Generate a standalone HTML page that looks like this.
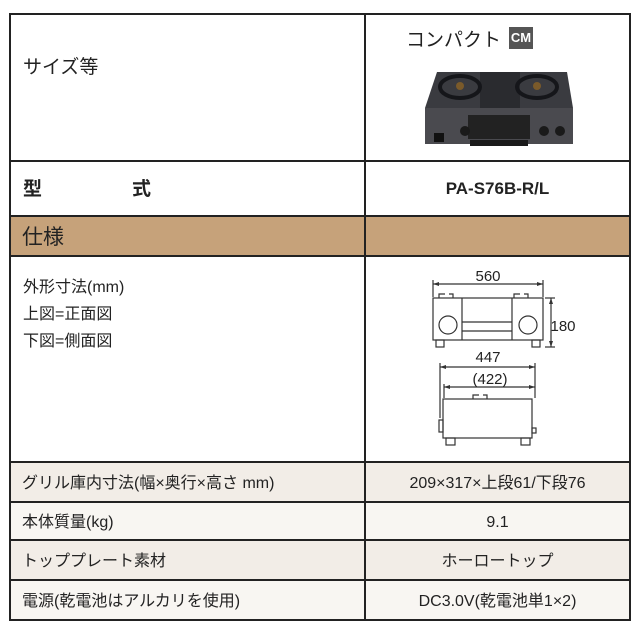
<!DOCTYPE html>
<html><head><meta charset="utf-8"><style>
body{margin:0;width:640px;height:640px;background:#fff;font-family:"Liberation Sans","Noto Sans CJK JP",sans-serif;color:#222;position:relative;overflow:hidden}
.t{position:absolute;white-space:nowrap}
.l{position:absolute;background:#222}
.r{position:absolute;white-space:nowrap;font-size:16px}
</style></head><body>
<div style="position:absolute;left:10px;top:216px;width:621px;height:40px;background:#c6a27a"></div>
<div style="position:absolute;left:10px;top:462px;width:621px;height:40px;background:#f2ede7"></div>
<div style="position:absolute;left:10px;top:502px;width:621px;height:38px;background:#f8f6f2"></div>
<div style="position:absolute;left:10px;top:540px;width:621px;height:40px;background:#f2ede7"></div>
<div style="position:absolute;left:10px;top:580px;width:621px;height:41px;background:#f8f6f2"></div>
<div class="l" style="left:9px;top:13px;width:2px;height:608px"></div>
<div class="l" style="left:629px;top:13px;width:2px;height:608px"></div>
<div class="l" style="left:364px;top:13px;width:2px;height:608px"></div>
<div class="l" style="left:9px;top:13px;width:622px;height:2px"></div>
<div class="l" style="left:9px;top:160px;width:622px;height:2px"></div>
<div class="l" style="left:9px;top:215px;width:622px;height:2px"></div>
<div class="l" style="left:9px;top:255px;width:622px;height:2px"></div>
<div class="l" style="left:9px;top:461px;width:622px;height:2px"></div>
<div class="l" style="left:9px;top:501px;width:622px;height:2px"></div>
<div class="l" style="left:9px;top:539px;width:622px;height:2px"></div>
<div class="l" style="left:9px;top:579px;width:622px;height:2px"></div>
<div class="l" style="left:9px;top:619px;width:622px;height:2px"></div>
<div class="t" style="left:23px;top:53px;font-size:19px;line-height:30px">サイズ等</div>
<div class="t" style="left:23px;top:175px;font-size:19px;font-weight:bold;line-height:30px">型</div>
<div class="t" style="left:132px;top:175px;font-size:19px;font-weight:bold;line-height:30px">式</div>
<div class="t" style="left:22px;top:219px;font-size:21px;line-height:38px">仕様</div>
<div class="t" style="left:23px;top:274px;font-size:16px;line-height:27px">外形寸法(mm)<br>上図=正面図<br>下図=側面図</div>
<div class="r" style="left:22px;top:465px;line-height:38px">グリル庫内寸法(幅×奥行×高さ mm)</div>
<div class="r" style="left:22px;top:505px;line-height:36px">本体質量(kg)</div>
<div class="r" style="left:22px;top:543px;line-height:38px">トッププレート素材</div>
<div class="r" style="left:22px;top:583px;line-height:38px">電源(乾電池はアルカリを使用)</div>
<div class="t" style="left:406px;top:25px;font-size:19px">コンパクト</div>
<div class="t" style="left:509px;top:27px;width:24px;height:22px;background:#555;color:#fff;font-size:13px;font-weight:bold;text-align:center;line-height:22px">CM</div>
<div class="t" style="left:366px;top:174px;width:263px;text-align:center;font-size:17px;font-weight:bold;line-height:30px">PA-S76B-R/L</div>
<div class="r" style="left:366px;top:465px;width:263px;text-align:center;line-height:38px">209×317×上段61/下段76</div>
<div class="r" style="left:366px;top:505px;width:263px;text-align:center;line-height:36px">9.1</div>
<div class="r" style="left:366px;top:543px;width:263px;text-align:center;line-height:38px">ホーロートップ</div>
<div class="r" style="left:366px;top:583px;width:263px;text-align:center;line-height:38px">DC3.0V(乾電池単1×2)</div>
<svg style="position:absolute;left:0;top:0" width="640" height="640">
<polygon points="437,72 567,72 573,108 425,108" fill="#3a3b40"/>
<rect x="425" y="108" width="148" height="36" fill="#4a4a4f"/>
<rect x="480" y="72" width="40" height="36" fill="#2a2b2f"/>
<ellipse cx="460" cy="87" rx="20" ry="11" fill="none" stroke="#15161a" stroke-width="4"/>
<ellipse cx="537" cy="87" rx="20" ry="11" fill="none" stroke="#15161a" stroke-width="4"/>
<circle cx="460" cy="86" r="4" fill="#7a5a2a"/><circle cx="537" cy="86" r="4" fill="#7a5a2a"/>
<rect x="468" y="115" width="62" height="24" fill="#222"/>
<rect x="470" y="140" width="58" height="6" fill="#1a1a1a"/>
<circle cx="465" cy="131" r="5" fill="#1a1a1a"/><circle cx="544" cy="131" r="5" fill="#1a1a1a"/><circle cx="560" cy="131" r="5" fill="#1a1a1a"/>
<rect x="434" y="133" width="10" height="9" fill="#111"/>
<g fill="none" stroke="#333" stroke-width="1.2">
<rect x="433" y="298" width="110" height="42"/>
<line x1="462" y1="298" x2="462" y2="340"/><line x1="512" y1="298" x2="512" y2="340"/>
<line x1="462" y1="322" x2="512" y2="322"/><line x1="462" y1="331" x2="512" y2="331"/>
<circle cx="448" cy="325" r="9"/><circle cx="528" cy="325" r="9"/>
<rect x="436" y="340" width="8" height="7"/><rect x="532" y="340" width="8" height="7"/>
<path d="M439,298v-4h6M449,294h4v4M514,298v-4h6M524,294h4v4"/>
<line x1="433" y1="280" x2="433" y2="297"/><line x1="543" y1="280" x2="543" y2="297"/>
<line x1="433" y1="284" x2="543" y2="284"/>
<line x1="545" y1="298" x2="555" y2="298"/><line x1="545" y1="347" x2="555" y2="347"/>
<line x1="551" y1="298" x2="551" y2="347"/>
<rect x="443" y="399" width="89" height="39"/>
<rect x="439" y="420" width="4" height="12"/><rect x="532" y="428" width="4" height="5"/>
<rect x="446" y="438" width="9" height="7"/><rect x="521" y="438" width="9" height="7"/>
<path d="M473,399v-4h6M483,395h4v4"/>
<line x1="440" y1="363" x2="440" y2="418"/><line x1="535" y1="363" x2="535" y2="398"/>
<line x1="440" y1="367" x2="535" y2="367"/>
<line x1="444" y1="384" x2="444" y2="398"/>
<line x1="444" y1="387" x2="535" y2="387"/>
</g>
<g fill="#333">
<path d="M433,284l6,-2v4zM543,284l-6,-2v4zM551,298l-2,6h4zM551,347l-2,-6h4zM440,367l6,-2v4zM535,367l-6,-2v4zM444,387l6,-2v4zM535,387l-6,-2v4z"/>
</g>
<g font-family="Liberation Sans,sans-serif" font-size="15" fill="#222" text-anchor="middle">
<text x="488" y="281">560</text>
<text x="563" y="331">180</text>
<text x="488" y="362">447</text>
<text x="490" y="384">(422)</text>
</g>
</svg>
</body></html>
